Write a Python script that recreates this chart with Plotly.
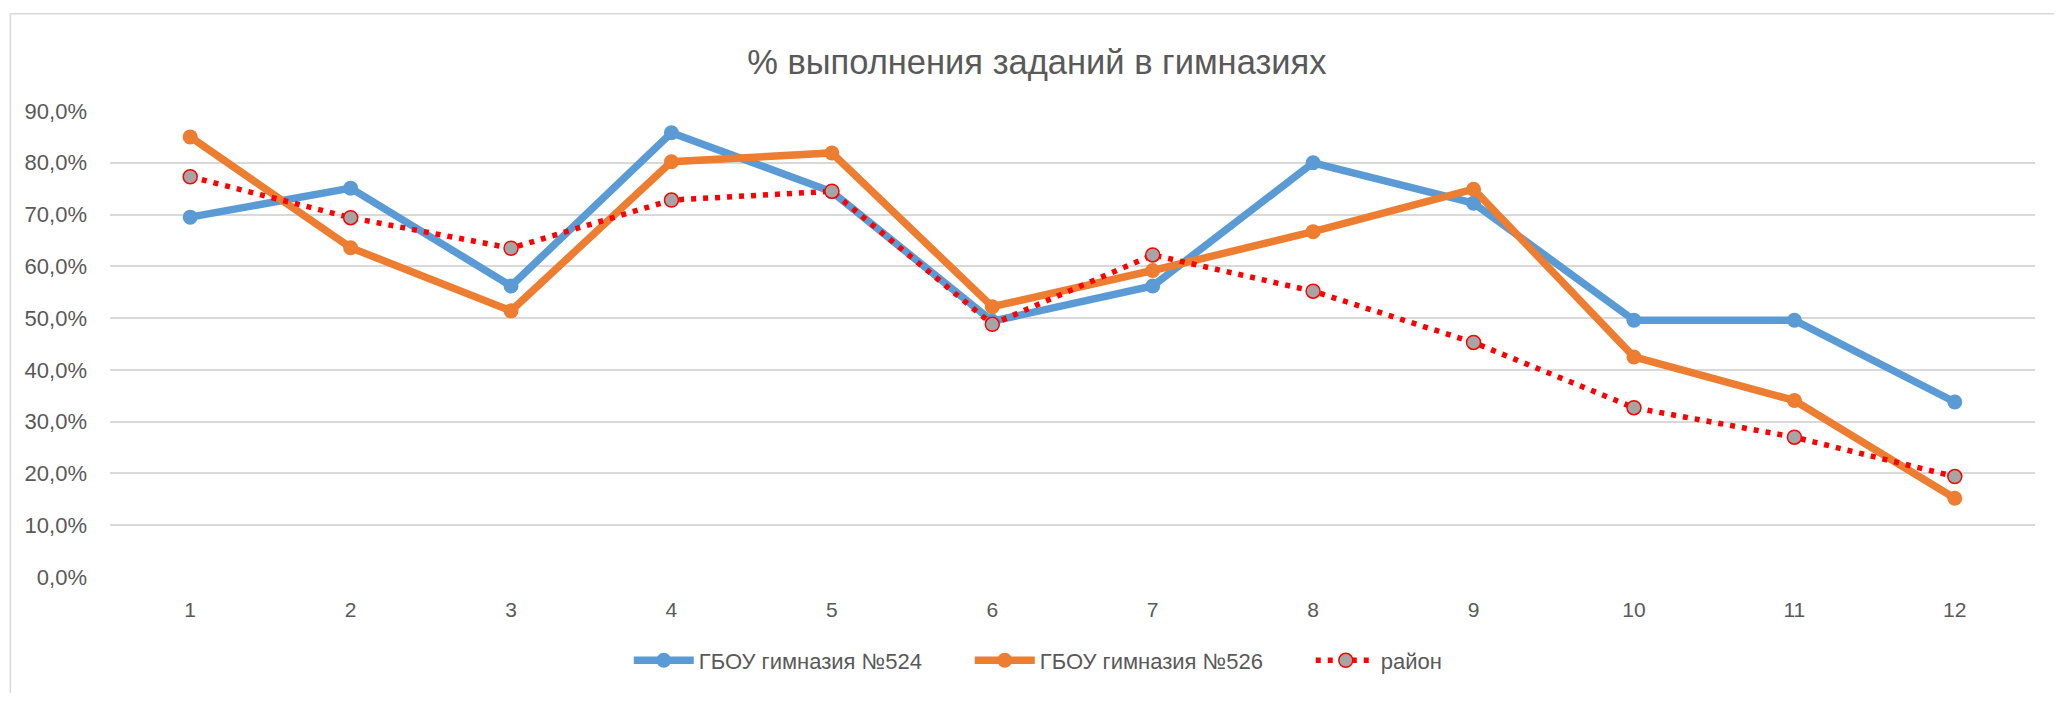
import plotly.graph_objects as go

categories = ["1", "2", "3", "4", "5", "6", "7", "8", "9", "10", "11", "12"]
gym524 = [0.695, 0.751, 0.562, 0.858, 0.744, 0.494, 0.562, 0.800, 0.722, 0.496, 0.496, 0.338]
gym526 = [0.850, 0.636, 0.514, 0.802, 0.819, 0.522, 0.592, 0.667, 0.749, 0.425, 0.341, 0.152]
district = [0.773, 0.694, 0.635, 0.728, 0.745, 0.488, 0.622, 0.552, 0.453, 0.327, 0.270, 0.194]
y_ticks = [0, 0.1, 0.2, 0.3, 0.4, 0.5, 0.6, 0.7, 0.8, 0.9]

# page body has an 8px margin; figure coordinates = page coordinates - 8
OFF = 8
W, H = 2062 - 2 * OFF, 701 - 2 * OFF
L = 110.3 - OFF
T = 110.7 - OFF
R = W - (2035 - OFF)
B = H - (583.3 - OFF)
pw, ph = W - L - R, H - T - B

FONT = "Liberation Sans"
TXT = "#595959"

fig = go.Figure()
fig.add_trace(go.Scatter(
    x=categories, y=gym524, name="ГБОУ гимназия №524", mode="lines+markers",
    line=dict(color="#5B9BD5", width=7.5), marker=dict(size=15, color="#5B9BD5"),
))
fig.add_trace(go.Scatter(
    x=categories, y=gym526, name="ГБОУ гимназия №526", mode="lines+markers",
    line=dict(color="#ED7D31", width=7.5), marker=dict(size=15, color="#ED7D31"),
))
fig.add_trace(go.Scatter(
    x=categories, y=district, name="район", mode="lines+markers",
    line=dict(color="#FF0000", width=5.5, dash="5px,7px"),
    marker=dict(size=14, color="#A5A5A5", line=dict(color="#FF0000", width=1.5)),
))

# outer chart border (left & top visible in reference)
fig.add_shape(type="rect", xref="paper", yref="paper",
              x0=(10.7 - OFF - L) / pw, x1=(W + 10 - L) / pw,
              y0=(-10 - B) / ph, y1=(H - (12 - OFF) - B) / ph,
              line=dict(color="#D9D9D9", width=1.5), layer="below")

fig.update_layout(
    width=W, height=H,
    margin=dict(l=L, r=R, t=T, b=B),
    paper_bgcolor="white", plot_bgcolor="white",
    separators=", ",
    font=dict(family=FONT, color=TXT, size=20),
    title=dict(text="% выполнения заданий в гимназиях", x=(1037 - OFF - L) / pw, xref="paper",
               xanchor="center", y=1 - (61.7 - OFF) / H, yanchor="middle",
               font=dict(size=34.5, color=TXT, family=FONT)),
    showlegend=True,
    legend=dict(orientation="h", x=(629 - OFF - L) / pw, xanchor="left",
                y=-(668 - OFF - (H - B)) / ph, yanchor="middle",
                font=dict(size=22, color=TXT),
                entrywidth=266, itemwidth=60,
                traceorder="normal", bgcolor="rgba(0,0,0,0)"),
    xaxis=dict(type="category", range=[-0.5, 11.5], showgrid=False, zeroline=False,
               showline=False, ticks="", ticklabelstandoff=18,
               tickfont=dict(size=21, color=TXT)),
    yaxis=dict(range=[0, 0.9], tickvals=y_ticks, tickformat=".1%",
               showgrid=True, gridcolor="#D9D9D9", gridwidth=1.5, zeroline=False,
               showline=False, ticks="", ticklabelstandoff=22,
               tickfont=dict(size=22, color=TXT)),
)

fig.write_html("out.html")
